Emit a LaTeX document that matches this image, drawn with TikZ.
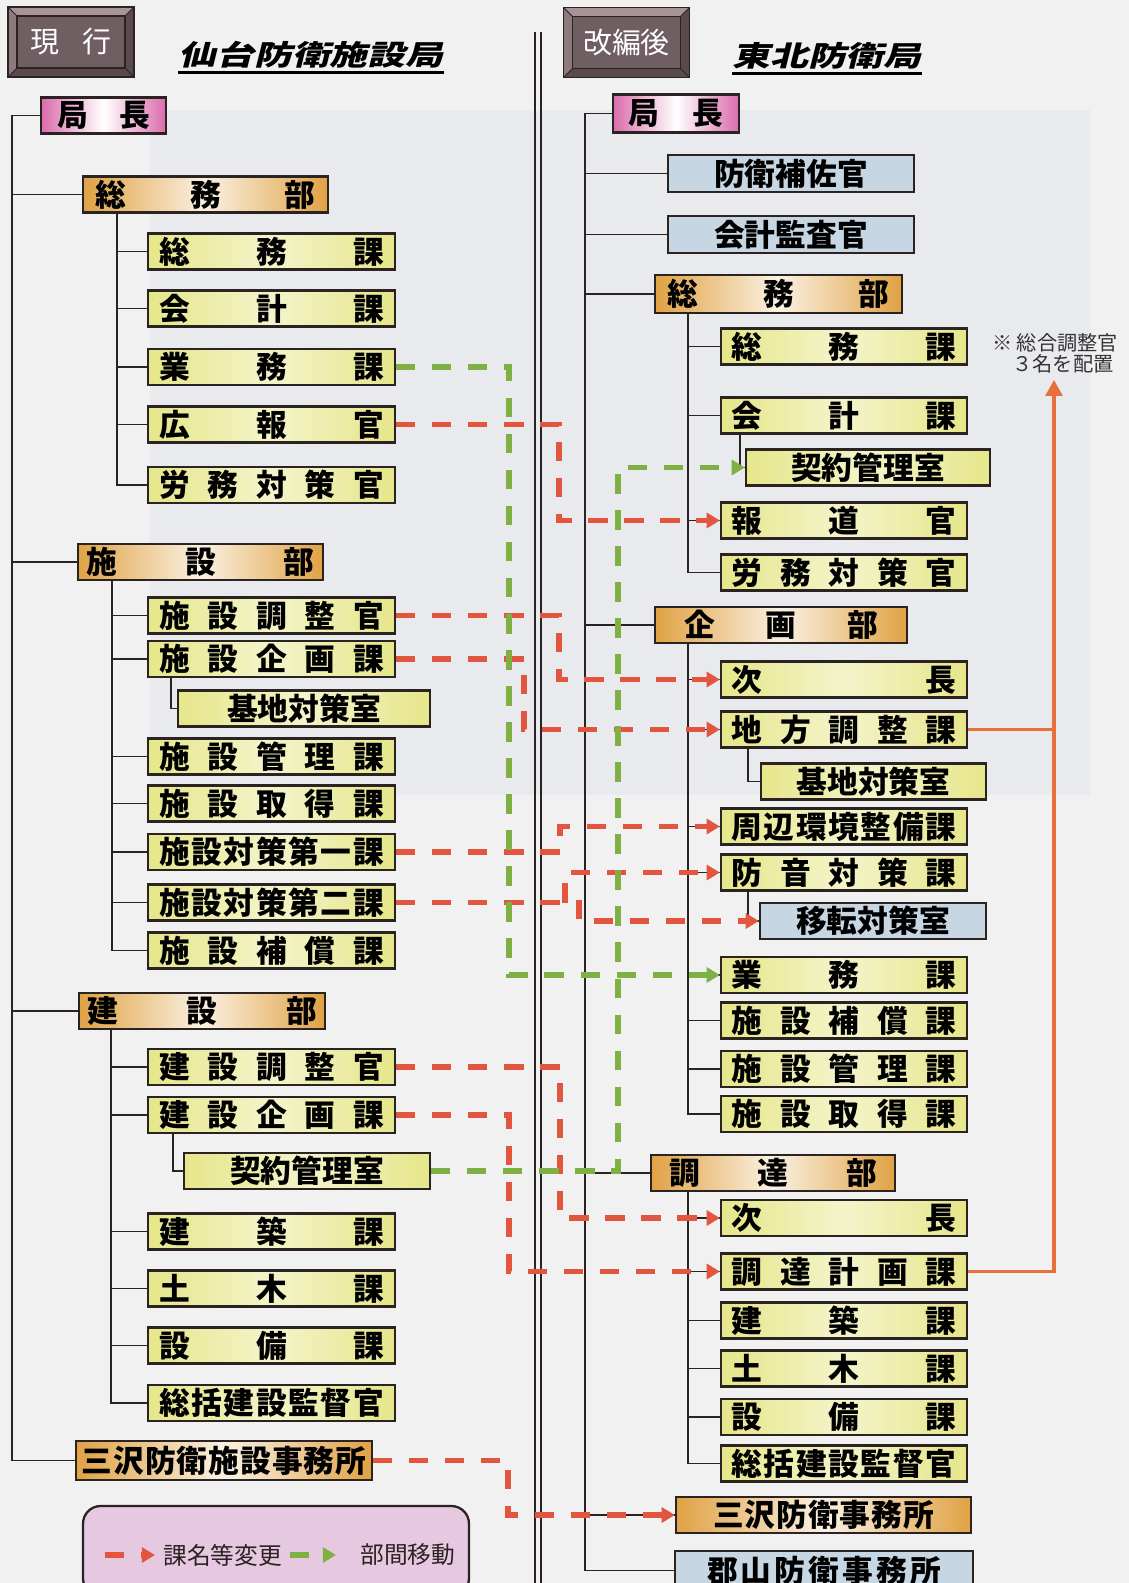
\documentclass[tikz,border=0pt]{standalone}
\usepackage{fontspec}
\setmainfont{Noto Sans CJK JP}
\newfontfamily\ttlfont[FakeSlant=0.25,FakeStretch=1.35]{Noto Sans CJK JP}
\usetikzlibrary{arrows.meta}

\definecolor{bgcol}{HTML}{F1F1F1}
\definecolor{bgblue}{HTML}{E8EAEE}
\definecolor{linecol}{HTML}{2B2222}
\definecolor{pinkcol}{HTML}{DA6CAC}
\definecolor{orgcol}{HTML}{E0A244}
\definecolor{ylwcol}{HTML}{E6E68A}
\definecolor{bluecol}{HTML}{C6D6E2}
\definecolor{chgred}{HTML}{E2553F}
\definecolor{movgrn}{HTML}{7FB043}
\definecolor{adjorg}{HTML}{E8703C}
\definecolor{hdrface}{HTML}{6F5E62}
\definecolor{hdrtop}{HTML}{A69497}
\definecolor{hdrside}{HTML}{8C7A7D}
\definecolor{hdrbot}{HTML}{5A4A4D}
\definecolor{legpink}{HTML}{E7C8E1}
\definecolor{notecol}{HTML}{333333}

\tikzstyle{unit} = [draw=linecol, line width=1.3pt, inner sep=0pt,
    minimum height=0.72cm, font=\bfseries\fontsize{17.5}{18}\selectfont]
\tikzstyle{kyoku} = [unit, left color=pinkcol, right color=pinkcol, middle color=white]
\tikzstyle{bu} = [unit, left color=orgcol, right color=orgcol, middle color=orgcol!15]
\tikzstyle{ka} = [unit, left color=ylwcol, right color=ylwcol, middle color=ylwcol!45,
    minimum width=4.94cm]
\tikzstyle{kan} = [unit, fill=bluecol, minimum width=4.92cm]
\tikzstyle{hdr} = [fill=hdrface, draw=linecol, line width=0.8pt, outer sep=0pt,
    minimum width=2.52cm, minimum height=1.4cm, text=white,
    font=\fontsize{16.5}{17}\selectfont]
\tikzstyle{ttl} = [inner sep=0pt, font=\ttlfont\bfseries\fontsize{16}{16}\selectfont]
\tikzstyle{tree} = [linecol, line width=1.1pt]
\tikzstyle{divline} = [linecol, line width=1.1pt]
\tikzstyle{chg} = [chgred, line width=3pt, dash pattern=on 11pt off 9.5pt,
    -{Triangle[length=7.5pt,width=8.5pt]}]
\tikzstyle{mov} = [movgrn, line width=3pt, dash pattern=on 11pt off 9.5pt,
    -{Triangle[length=7.5pt,width=8.5pt]}]
\tikzstyle{adj} = [adjorg, line width=1.8pt]
\tikzstyle{note} = [inner sep=0pt, text=notecol, font=\fontsize{11.5}{12}\selectfont]
\tikzstyle{legtxt} = [inner sep=0pt, anchor=west, text=linecol, font=\fontsize{13.5}{14}\selectfont]

% spread the characters of a label over the box
\newcommand\spr[2][4.5cm]{\makebox[#1]{#2}}
% bevelled frame round a header node
\newcommand\bevel[1]{%
    \fill[hdrtop] (#1.north west) -- (#1.north east) -- ([shift={(-9,9)}]#1.north east)
        -- ([shift={(9,9)}]#1.north west) -- cycle;
    \fill[hdrbot] (#1.south west) -- (#1.south east) -- ([shift={(-9,-9)}]#1.south east)
        -- ([shift={(9,-9)}]#1.south west) -- cycle;
    \fill[hdrside] (#1.north west) -- ([shift={(9,9)}]#1.north west)
        -- ([shift={(9,-9)}]#1.south west) -- (#1.south west) -- cycle;
    \fill[hdrbot] (#1.north east) -- ([shift={(-9,9)}]#1.north east)
        -- ([shift={(-9,-9)}]#1.south east) -- (#1.south east) -- cycle;
    \draw[linecol, line width=0.8pt] (#1.north west) rectangle (#1.south east);
    \draw[linecol, line width=0.6pt] ([shift={(9,9)}]#1.north west) rectangle ([shift={(-9,-9)}]#1.south east);
    \draw[linecol, line width=0.5pt] (#1.north west) -- ++(9,9) (#1.north east) -- ++(-9,9)
        (#1.south west) -- ++(9,-9) (#1.south east) -- ++(-9,-9);
}

\begin{document}
\begin{tikzpicture}[x=0.02cm, y=-0.02cm]
    % page
    \useasboundingbox (0,0) rectangle (1129,1583);
    \clip (0,0) rectangle (1129,1583);
    \fill[bgcol] (0,0) rectangle (1129,1583);
    \fill[bgblue] (150,110) rectangle (1090,795);
    \draw[divline] (535,32) -- (535,1583);
    \draw[divline] (541,32) -- (541,1583);

    % headers and titles
    \node[hdr] (hdrL) at (71,42) {現\hspace{0.8em}行};
    \bevel{hdrL}
    \node[hdr] (hdrR) at (626.5,42.5) {改編後};
    \bevel{hdrR}
    \node[ttl] (ttlL) at (311,55) {仙台防衛施設局};
    \draw[line width=1.6pt] ([shift={(0,4)}]ttlL.south west) -- ([shift={(0,4)}]ttlL.south east);
    \node[ttl] (ttlR) at (827,56) {東北防衛局};
    \draw[line width=1.6pt] ([shift={(0,4)}]ttlR.south west) -- ([shift={(0,4)}]ttlR.south east);

    % current organisation
    \node[kyoku, minimum width=2.5cm] (lkyoku) at (103.5,115.5) {\spr[1.86cm]{局\hfill 長}};
    \node[bu, minimum width=4.9cm] (lsomubu) at (205.5,194.5) {\spr[4.4cm]{総\hfill 務\hfill 部}};
    \foreach \nm/\yy/\tx in {lsomuka/251.5/{総\hfill 務\hfill 課},
            lkaikei/308.5/{会\hfill 計\hfill 課},
            lgyomu/367/{業\hfill 務\hfill 課},
            lkoho/424.5/{広\hfill 報\hfill 官},
            lromu/485/{労\hfill 務\hfill 対\hfill 策\hfill 官}}
        \node[ka] (\nm) at (271.5,\yy) {\spr{\tx}};
    \node[bu, minimum width=4.9cm] (lshisetsubu) at (200.5,562) {\spr[4.55cm]{施\hfill 設\hfill 部}};
    \foreach \nm/\yy/\tx in {lscho/615.5/{施\hfill 設\hfill 調\hfill 整\hfill 官},
            lskikaku/659/{施\hfill 設\hfill 企\hfill 画\hfill 課},
            lskanri/756.5/{施\hfill 設\hfill 管\hfill 理\hfill 課},
            lsshutoku/803.5/{施\hfill 設\hfill 取\hfill 得\hfill 課},
            lstai1/852/{施\hfill 設\hfill 対\hfill 策\hfill 第\hfill 一\hfill 課},
            lstai2/902.5/{施\hfill 設\hfill 対\hfill 策\hfill 第\hfill 二\hfill 課},
            lshosho/950.5/{施\hfill 設\hfill 補\hfill 償\hfill 課}}
        \node[ka] (\nm) at (271.5,\yy) {\spr{\tx}};
    \node[ka, minimum width=5.04cm] (lkichi) at (304,708.5) {基地対策室};
    \node[bu, minimum width=4.92cm] (lkensetsubu) at (202,1011) {\spr[4.6cm]{建\hfill 設\hfill 部}};
    \foreach \nm/\yy/\tx in {lkcho/1067/{建\hfill 設\hfill 調\hfill 整\hfill 官},
            lkkikaku/1115/{建\hfill 設\hfill 企\hfill 画\hfill 課},
            lkenchiku/1231.5/{建\hfill 築\hfill 課},
            ldoboku/1288.5/{土\hfill 木\hfill 課},
            lsetsubi/1345.5/{設\hfill 備\hfill 課},
            lsokatsu/1403/{総\hfill 括\hfill 建\hfill 設\hfill 監\hfill 督\hfill 官}}
        \node[ka] (\nm) at (271.5,\yy) {\spr{\tx}};
    \node[ka, minimum width=4.92cm] (lkeiyaku) at (307,1171) {契約管理室};
    \node[bu, minimum width=5.92cm, minimum height=0.78cm] (lmisawa) at (224,1460.5)
        {\spr[5.7cm]{三\hfill 沢\hfill 防\hfill 衛\hfill 施\hfill 設\hfill 事\hfill 務\hfill 所}};

    % new organisation
    \node[kyoku, minimum width=2.52cm, minimum height=0.76cm] (rkyoku) at (676,113.5) {\spr[1.9cm]{局\hfill 長}};
    \node[kan, minimum height=0.74cm] (rhosa) at (791,173.5) {防衛補佐官};
    \node[kan, minimum height=0.74cm] (rkansa) at (791,234.5) {会計監査官};
    \node[bu, minimum width=4.94cm, minimum height=0.76cm] (rsomubu) at (778.5,294) {\spr[4.44cm]{総\hfill 務\hfill 部}};
    \foreach \nm/\yy/\tx in {rsomuka/346.5/{総\hfill 務\hfill 課},
            rkaikei/415.5/{会\hfill 計\hfill 課},
            rhodo/520.5/{報\hfill 道\hfill 官},
            rromu/572.5/{労\hfill 務\hfill 対\hfill 策\hfill 官}}
        \node[ka, minimum width=4.92cm] (\nm) at (844,\yy) {\spr{\tx}};
    \node[ka, minimum width=4.88cm] (rkeiyaku) at (868,467.5) {契約管理室};
    \node[bu, minimum width=5.04cm] (rkikakubu) at (781,625) {\spr[3.88cm]{企\hfill 画\hfill 部}};
    \foreach \nm/\yy/\tx in {rjicho1/679.5/{次\hfill 長},
            rchiho/729.5/{地\hfill 方\hfill 調\hfill 整\hfill 課},
            rshuhen/826.5/{周\hfill 辺\hfill 環\hfill 境\hfill 整\hfill 備\hfill 課},
            rboon/872.5/{防\hfill 音\hfill 対\hfill 策\hfill 課},
            rgyomu/975/{業\hfill 務\hfill 課},
            rshosho/1020.5/{施\hfill 設\hfill 補\hfill 償\hfill 課},
            rskanri/1069/{施\hfill 設\hfill 管\hfill 理\hfill 課},
            rsshutoku/1114/{施\hfill 設\hfill 取\hfill 得\hfill 課}}
        \node[ka, minimum width=4.92cm] (\nm) at (844,\yy) {\spr{\tx}};
    \node[ka, minimum width=4.5cm] (rkichi) at (873.5,781.5) {基地対策室};
    \node[kan, minimum width=4.52cm] (riten) at (873,921) {移転対策室};
    \node[bu, minimum width=4.88cm] (rchotatsubu) at (773,1173) {\spr[4.16cm]{調\hfill 達\hfill 部}};
    \foreach \nm/\yy/\tx in {rjicho2/1218/{次\hfill 長},
            rchokei/1271.5/{調\hfill 達\hfill 計\hfill 画\hfill 課},
            rkenchiku/1320.5/{建\hfill 築\hfill 課},
            rdoboku/1368.5/{土\hfill 木\hfill 課},
            rsetsubi/1417/{設\hfill 備\hfill 課},
            rsokatsu/1463.5/{総\hfill 括\hfill 建\hfill 設\hfill 監\hfill 督\hfill 官}}
        \node[ka, minimum width=4.92cm] (\nm) at (844,\yy) {\spr{\tx}};
    \node[bu, minimum width=5.9cm] (rmisawa) at (823.5,1515)
        {\spr[4.42cm]{三\hfill 沢\hfill 防\hfill 衛\hfill 事\hfill 務\hfill 所}};
    \node[kan, minimum width=5.96cm, minimum height=0.78cm] (rkoriyama) at (824,1570.5)
        {\spr[4.68cm]{郡\hfill 山\hfill 防\hfill 衛\hfill 事\hfill 務\hfill 所}};

    % tree lines, current
    \coordinate (lmain) at (12,0);
    \draw[tree] (lkyoku.west) -| (lmain |- lmisawa.west) -- (lmisawa.west);
    \foreach \nm in {lsomubu,lshisetsubu,lkensetsubu}
        \draw[tree] (\nm.west) -- (\nm.west -| lmain);
    \coordinate (lsv1) at (117,0);
    \draw[tree] (lsomubu.south -| lsv1) |- (lromu.west);
    \foreach \nm in {lsomuka,lkaikei,lgyomu,lkoho}
        \draw[tree] (\nm.west) -- (\nm.west -| lsv1);
    \coordinate (lsv2) at (112,0);
    \draw[tree] (lshisetsubu.south -| lsv2) |- (lshosho.west);
    \foreach \nm in {lscho,lskikaku,lskanri,lsshutoku,lstai1,lstai2}
        \draw[tree] (\nm.west) -- (\nm.west -| lsv2);
    \coordinate (lsv3) at (171,0);
    \draw[tree] (lskikaku.south -| lsv3) |- (lkichi.west);
    \coordinate (lsv4) at (111,0);
    \draw[tree] (lkensetsubu.south -| lsv4) |- (lsokatsu.west);
    \foreach \nm in {lkcho,lkkikaku,lkenchiku,ldoboku,lsetsubi}
        \draw[tree] (\nm.west) -- (\nm.west -| lsv4);
    \coordinate (lsv5) at (173,0);
    \draw[tree] (lkkikaku.south -| lsv5) |- (lkeiyaku.west);

    % tree lines, new
    \coordinate (rmain) at (585,0);
    \draw[tree] (rkyoku.west) -| (rmain |- rkoriyama.west) -- (rkoriyama.west);
    \foreach \nm in {rhosa,rkansa,rsomubu,rkikakubu,rchotatsubu,rmisawa}
        \draw[tree] (\nm.west) -- (\nm.west -| rmain);
    \coordinate (rsv) at (688,0);
    \draw[tree] (rsomubu.south -| rsv) |- (rromu.west);
    \foreach \nm in {rsomuka,rkaikei,rhodo}
        \draw[tree] (\nm.west) -- (\nm.west -| rsv);
    \draw[tree] (rkikakubu.south -| rsv) |- (rsshutoku.west);
    \foreach \nm in {rjicho1,rchiho,rshuhen,rboon,rgyomu,rshosho,rskanri}
        \draw[tree] (\nm.west) -- (\nm.west -| rsv);
    \draw[tree] (rchotatsubu.south -| rsv) |- (rsokatsu.west);
    \foreach \nm in {rjicho2,rchokei,rkenchiku,rdoboku,rsetsubi}
        \draw[tree] (\nm.west) -- (\nm.west -| rsv);
    \coordinate (rsv2) at (740,0);
    \draw[tree] (rkaikei.south -| rsv2) |- (rkeiyaku.west);
    \coordinate (rsv3) at (748,0);
    \draw[tree] (rchiho.south -| rsv3) |- (rkichi.west);
    \draw[tree] (rboon.south -| rsv3) |- (riten.west);

    % renamed units
    \draw[chg] (lkoho.east) -- ++(163,0) |- (rhodo.west);
    \draw[chg] (lscho.east) -- ++(163,0) |- (rjicho1.west);
    \draw[chg] (lskikaku.east) -- ++(128,0) |- (rchiho.west);
    \draw[chg] (lstai1.east) -- ++(164,0) |- (rshuhen.west);
    \draw[chg] (lstai2.east) -- ++(183,0) |- (riten.west);
    \coordinate (boonbr) at (565,902.5);
    \draw[chg] (boonbr) |- (rboon.west);
    \draw[chg] (lkcho.east) -- ++(164,0) |- (rjicho2.west);
    \draw[chg] (lkkikaku.east) -- ++(113,0) |- (rchokei.west);
    \draw[chg] (lmisawa.east) -- ++(135,0) |- (rmisawa.west);
    % moved between departments
    \draw[mov] (lgyomu.east) -- ++(113,0) |- (rgyomu.west);
    \draw[mov] (lkeiyaku.east) -- ++(187,0) |- (rkeiyaku.west);

    % coordinators note
    \node[note] (note1) at (1055,343) {※ 総合調整官};
    \node[note] (note2) at (1063,364) {３名を配置};
    \coordinate (noteup) at (1054,380);
    \draw[adj, -{Triangle[length=9pt,width=9.5pt]}] (rchokei.east) -| (noteup);
    \draw[adj] (rchiho.east) -- (rchiho.east -| noteup);

    % legend
    \node[draw=linecol, line width=1.3pt, fill=legpink, rounded corners=10pt,
        minimum width=7.72cm, minimum height=1.8cm] (legend) at (276,1551) {};
    \node[legtxt] (lgchg) at (163,1555) {課名等変更};
    \node[legtxt] (lgmov) at (360,1555) {部間移動};
    \coordinate (lga) at (105,1555);
    \coordinate (lgb) at (155,1555);
    \coordinate (lgc) at (290,1555);
    \coordinate (lgd) at (336,1555);
    \draw[chg] (lga) -- (lgb);
    \draw[mov] (lgc) -- (lgd);
\end{tikzpicture}
\end{document}
